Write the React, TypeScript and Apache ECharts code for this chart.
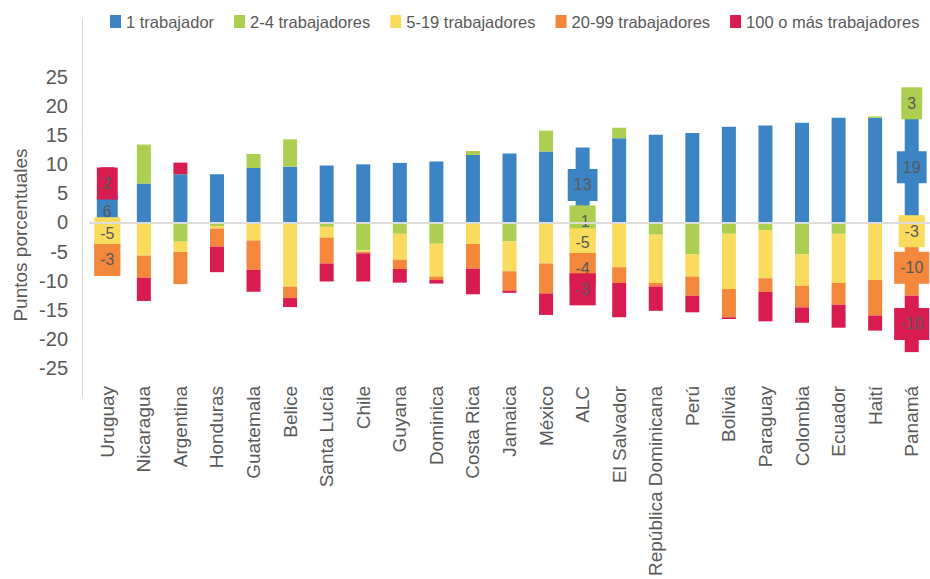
import React, { useEffect, useRef } from "react";
import * as echarts from "echarts";

const categories = [
  "Uruguay", "Nicaragua", "Argentina", "Honduras", "Guatemala", "Belice", "Santa Lucía", "Chile",
  "Guyana", "Dominica", "Costa Rica", "Jamaica", "México", "ALC", "El Salvador",
  "República Dominicana", "Perú", "Bolivia", "Paraguay", "Colombia", "Ecuador", "Haití", "Panamá",
];

const seriesNames = ["1 trabajador", "2-4 trabajadores", "5-19 trabajadores", "20-99 trabajadores", "100 o más trabajadores"];

const oneWorker = [3.9, 6.7, 8.3, 8.3, 9.35, 9.6, 9.8, 10.0, 10.25, 10.5, 11.6, 11.85, 12.2, 12.9, 14.5, 15.1, 15.4, 16.45, 16.7, 17.15, 18.0, 18.0, 19];
const twoToFour = [0, 6.7, -3.3, -0.6, 2.45, 4.7, -0.75, -4.8, -1.95, -3.65, 0.7, -3.25, 3.6, -1, 1.8, -2.1, -5.45, -1.95, -1.3, -5.45, -1.95, 0.25, 3];
const fiveToNineteen = [-3.7, -5.7, -1.75, -0.45, -3.1, -11.05, -1.85, -0.25, -4.45, -5.65, -3.7, -5.15, -7.05, -5, -7.7, -8.3, -3.85, -9.5, -8.3, -5.45, -8.45, -9.9, -3];
const twentyToNinetyNine = [-5.5, -3.8, -5.55, -3.1, -5.05, -1.95, -4.45, -0.25, -1.6, -0.6, -4.25, -3.3, -5.15, -4, -2.7, -0.6, -3.3, -4.85, -2.35, -3.7, -3.75, -6.1, -9.6];
const hundredPlus = [5.6, -4.0, 2.0, -4.4, -3.75, -1.55, -3.1, -4.85, -2.35, -0.6, -4.4, -0.4, -3.7, -3, -5.9, -4.2, -2.85, -0.3, -5.05, -2.65, -3.95, -2.6, -9.7];

// Data label texts shown on Uruguay, ALC and Panamá (as printed in the source chart)
const labelCategories = ["Uruguay", "ALC", "Panamá"];
const oneWorkerLabels = ["6", "13", "19"];
const twoToFourLabels = ["", "-1", "3"];
const fiveToNineteenLabels = ["-5", "-5", "-3"];
const twentyToNinetyNineLabels = ["-3", "-4", "-10"];
const hundredPlusLabels = ["2", "-3", "-10"];

const yTicks = [-25, -20, -15, -10, -5, 0, 5, 10, 15, 20, 25];

const colors = ["#3d84c5", "#adcf51", "#f9dc5e", "#f3873b", "#d91c4f"];
const TEXT = "#595959";
const REG = "'Liberation Sans', Arial, sans-serif";

export default function App() {
  const ref = useRef<HTMLDivElement>(null);
  useEffect(() => {
    if (!ref.current) return;
    const chart = echarts.init(ref.current, undefined, { renderer: "svg" });
    const values = [oneWorker, twoToFour, fiveToNineteen, twentyToNinetyNine, hundredPlus];
    const labels = [oneWorkerLabels, twoToFourLabels, fiveToNineteenLabels, twentyToNinetyNineLabels, hundredPlusLabels];

    const series = values.map((vals, si) => ({
      name: seriesNames[si],
      type: "bar",
      stack: "total",
      barWidth: 14,
      itemStyle: { color: colors[si] },
      data: vals.map((v, i) => {
        const li = labelCategories.indexOf(categories[i]);
        const txt = li >= 0 ? labels[si][li] : "";
        if (txt) {
          const isAlc = categories[i] === "ALC";
          let padding: number[] = [8, 6];
          let offset: number[] = [0, 0];
          if (isAlc && si === 1) offset = [0, -4];
          if (isAlc && si === 2) padding = [5, 6, 8, 6];
          return {
            value: v,
            label: {
              show: true,
              position: "inside",
              formatter: txt,
              backgroundColor: colors[si],
              padding,
              offset,
              color: TEXT,
              fontSize: 16,
              lineHeight: 16,
              fontFamily: REG,
            },
          };
        }
        return v;
      }),
      ...(si === 0
        ? {
            markLine: {
              silent: true,
              symbol: "none",
              label: { show: false },
              lineStyle: { color: "#dcdcdc", width: 2, type: "solid" },
              data: [{ yAxis: 0 }],
            },
          }
        : {}),
    }));

    chart.setOption({
      animation: false,
      color: colors,
      textStyle: { fontFamily: REG },
      legend: {
        left: 110,
        top: 13,
        padding: 0,
        itemWidth: 11,
        itemHeight: 13,
        itemGap: 20,
        icon: "rect",
        textStyle: { color: TEXT, fontSize: 16.5, fontFamily: REG },
        data: seriesNames,
      },
      grid: { left: 89, right: -4, top: 19, bottom: 176.5, containLabel: false },
      xAxis: {
        type: "category",
        data: categories,
        axisLine: { show: false },
        axisTick: { show: false },
        axisLabel: {
          rotate: 90,
          interval: 0,
          margin: -11,
          color: TEXT,
          fontSize: 19,
          fontFamily: REG,
        },
      },
      yAxis: {
        type: "value",
        min: -30,
        max: 35,
        interval: 5,
        offset: 7,
        splitLine: { show: false },
        axisTick: { show: false },
        axisLine: { show: true, lineStyle: { color: "#d9d9d9", width: 1 } },
        axisLabel: {
          margin: 14,
          color: TEXT,
          fontSize: 20,
          fontFamily: REG,
          formatter: (v: number) => (yTicks.indexOf(v) >= 0 ? String(v) : ""),
        },
      },
      graphic: [
        {
          type: "text",
          x: 20,
          y: 235,
          rotation: Math.PI / 2,
          style: {
            text: "Puntos porcentuales",
            fill: TEXT,
            fontSize: 19,
            fontFamily: REG,
            align: "center",
            verticalAlign: "middle",
          },
        },
      ],
      series,
    });
    return () => chart.dispose();
  }, []);
  return <div ref={ref} style={{ position: "absolute", left: 0, top: 0, width: 930, height: 579 }} />;
}
